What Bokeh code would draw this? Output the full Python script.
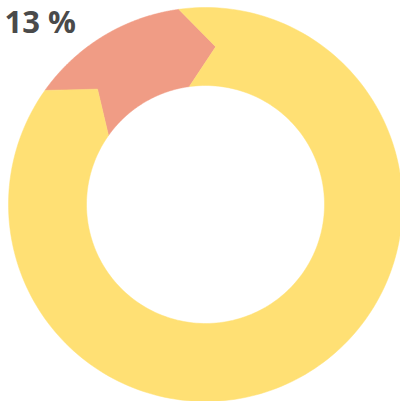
import numpy as np
from bokeh.plotting import figure
from bokeh.models import Range1d
from bokeh.core.properties import value
from bokeh.embed import file_html
from bokeh.resources import INLINE

# Data
categories = ["Share", "Rest"]
values = [13, 87]
colors = ["#F09C85", "#FFE074"]
label_text = "13 %"

# Geometry (styling)
R_OUT = 197
R_IN = 119
R_MID = (R_OUT + R_IN) / 2
START_DEG = 97.8      # math angle where first segment begins (ccw)
CHEVRON_DEG = 11.5    # clockwise shift of chevron tip

p = figure(width=400, height=401, output_backend="svg", toolbar_location=None,
           x_range=Range1d(-205, 195), y_range=Range1d(-197, 204),
           min_border=0)
p.axis.visible = False
p.grid.visible = False
p.outline_line_color = None
p.background_fill_color = "white"

total = float(sum(values))
theta = np.deg2rad(START_DEG)
d = np.deg2rad(CHEVRON_DEG)
xs_all, ys_all = [], []
for v in values:
    span = v / total * 2 * np.pi
    t1, t2 = theta, theta + span
    arc = np.linspace(t1, t2, 200)
    xs = list(R_OUT * np.cos(arc))
    ys = list(R_OUT * np.sin(arc))
    xs.append(R_MID * np.cos(t2 - d)); ys.append(R_MID * np.sin(t2 - d))
    xs += list(R_IN * np.cos(arc[::-1])); ys += list(R_IN * np.sin(arc[::-1]))
    xs.append(R_MID * np.cos(t1 - d)); ys.append(R_MID * np.sin(t1 - d))
    xs_all.append(xs); ys_all.append(ys)
    theta = t2

p.patches(xs=xs_all, ys=ys_all, fill_color=colors, line_color=colors, line_width=0.5)

p.text(x=[-201], y=[184], text=[label_text], text_font=value("Open Sans"),
       text_font_style="bold", text_font_size="31px", text_color="#4A4A4A",
       text_baseline="alphabetic", text_align="left")

open("out.html", "w").write(file_html(p, INLINE))
